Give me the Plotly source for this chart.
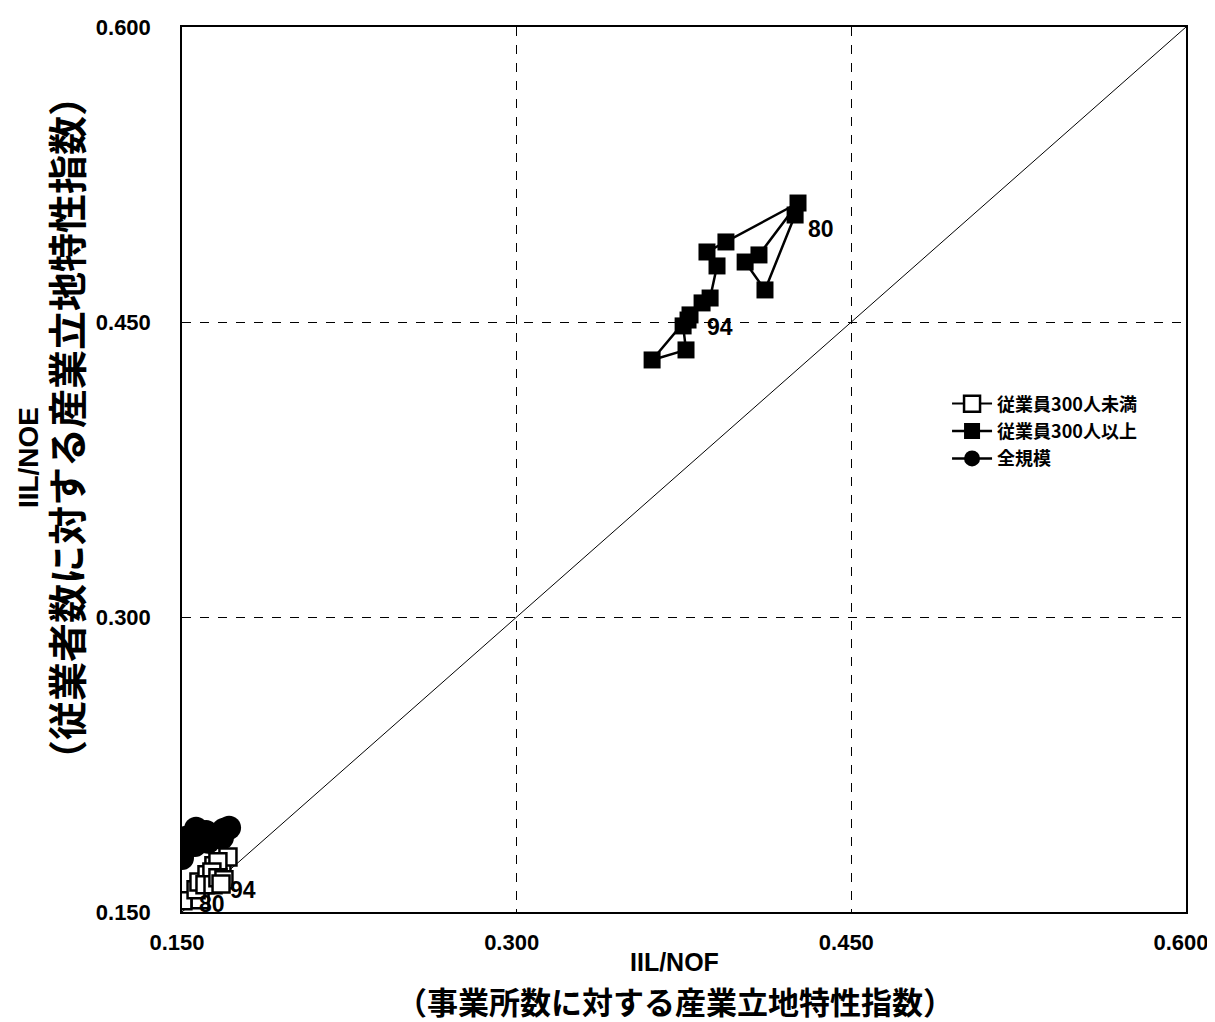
import plotly.graph_objects as go

# ---- data ----
years = list(range(80, 95))

small_x = [0.1581, 0.1504, 0.1563, 0.1576, 0.1612, 0.1643, 0.1679, 0.1706, 0.1661, 0.1634, 0.1603, 0.1639, 0.1661, 0.1688, 0.1675]
small_y = [0.1562, 0.1557, 0.1613, 0.1653, 0.1689, 0.1735, 0.1714, 0.1780, 0.1755, 0.1704, 0.1638, 0.1638, 0.1674, 0.1664, 0.1643]

large_x = [0.4248, 0.4113, 0.4024, 0.4086, 0.4261, 0.3938, 0.3853, 0.3898, 0.3867, 0.3831, 0.3777, 0.3607, 0.3759, 0.3746, 0.3768]
large_y = [0.5044, 0.4663, 0.4805, 0.4841, 0.5105, 0.4907, 0.4856, 0.4785, 0.4622, 0.4597, 0.4536, 0.4307, 0.4358, 0.4480, 0.4510]

all_x = [0.1500, 0.1509, 0.1518, 0.1563, 0.1581, 0.1608, 0.1634, 0.1661, 0.1688, 0.1711, 0.1679, 0.1617, 0.1558, 0.1536, 0.1504]
all_y = [0.1775, 0.1841, 0.1877, 0.1923, 0.1897, 0.1907, 0.1887, 0.1897, 0.1918, 0.1928, 0.1877, 0.1857, 0.1841, 0.1867, 0.1816]

tick_vals = [0.15, 0.30, 0.45, 0.60]
tick_text = ["0.150", "0.300", "0.450", "0.600"]

series_names = ["従業員300人未満", "従業員300人以上", "全規模"]

# ---- styling ----
LAT = "Liberation Sans, Arial, Noto Sans CJK JP, sans-serif"
JP = "Noto Sans CJK JP, Liberation Sans, sans-serif"

fig = go.Figure()

fig.add_trace(go.Scatter(
    x=all_x, y=all_y, mode="lines+markers", name=series_names[2],
    line=dict(color="black", width=2.5),
    marker=dict(symbol="circle", size=24, color="black"),
    legendrank=3, legendgroup="c",
))
fig.add_trace(go.Scatter(
    x=small_x, y=small_y, mode="lines+markers", name=series_names[0],
    line=dict(color="black", width=2),
    marker=dict(symbol="square", size=17, color="white", line=dict(color="black", width=2.5)),
    legendrank=1, legendgroup="a",
))
fig.add_trace(go.Scatter(
    x=large_x, y=large_y, mode="lines+markers", name=series_names[1],
    line=dict(color="black", width=2.5),
    marker=dict(symbol="square", size=17, color="black"),
    legendrank=2, legendgroup="b",
))

# diagonal reference line
fig.add_shape(type="line", xref="x", yref="y", x0=0.15, y0=0.15, x1=0.6, y1=0.6,
              line=dict(color="black", width=1), layer="below")

# year labels
labels = [
    dict(x=large_x[0], y=large_y[0], text="80", xshift=26, yshift=-14),
    dict(x=large_x[-1], y=large_y[-1], text="94", xshift=32, yshift=-7),
    dict(x=small_x[-1], y=small_y[-1], text="94", xshift=22, yshift=-6),
    dict(x=small_x[0], y=small_y[0], text="80", xshift=12, yshift=-4),
]
for lb in labels:
    fig.add_annotation(x=lb["x"], y=lb["y"], text="<b>" + lb["text"] + "</b>", showarrow=False,
                       xref="x", yref="y", xshift=lb["xshift"], yshift=lb["yshift"],
                       font=dict(family=LAT, size=23, color="black"))

# axis titles
fig.add_annotation(x=0.491, y=-0.057, xref="paper", yref="paper", text="<b>IIL/NOF</b>",
                   xanchor="center", yanchor="middle",
                   showarrow=False, font=dict(family=LAT, size=25, color="black"))
fig.add_annotation(x=0.491, y=-0.1, xref="paper", yref="paper",
                   text="<b>（事業所数に対する産業立地特性指数）</b>",
                   xanchor="center", yanchor="middle",
                   showarrow=False, font=dict(family=JP, size=31, color="black"))
fig.add_annotation(x=-0.1534, y=0.514, xref="paper", yref="paper", text="<b>IIL/NOE</b>",
                   xanchor="center", yanchor="middle",
                   showarrow=False, textangle=-90, font=dict(family=LAT, size=28, color="black"))
fig.add_annotation(x=-0.1165, y=0.547, xref="paper", yref="paper",
                   text="<b>（従業者数に対する産業立地特性指数）</b>",
                   xanchor="center", yanchor="middle",
                   showarrow=False, textangle=-90, font=dict(family=JP, size=39, color="black"))

axis_common = dict(
    range=[0.15, 0.6], tickvals=tick_vals, ticktext=tick_text,
    showgrid=True, gridcolor="black", griddash="dash", gridwidth=1,
    showline=True, linecolor="black", linewidth=1.5, mirror=True,
    zeroline=False, ticks="", automargin=False,
    tickfont=dict(family=LAT, size=22, color="black", weight="bold"),
)

# the page adds an 8px body margin, so the figure is 8px smaller on each side
fig.update_layout(
    width=1207, height=1014,
    margin=dict(l=174, r=29, t=19, b=110),
    paper_bgcolor="white", plot_bgcolor="white",
    xaxis=dict(**axis_common, ticklabelstandoff=10, ticklabelshift=-5),
    yaxis=dict(**axis_common, ticklabelstandoff=25),
    showlegend=True,
    legend=dict(x=0.762, y=0.595, xanchor="left", yanchor="top",
                bgcolor="rgba(0,0,0,0)", borderwidth=0,
                font=dict(family=JP, size=18, color="black", weight="bold"),
                traceorder="grouped", tracegroupgap=1, itemwidth=40),
)

fig.write_html("out.html")
